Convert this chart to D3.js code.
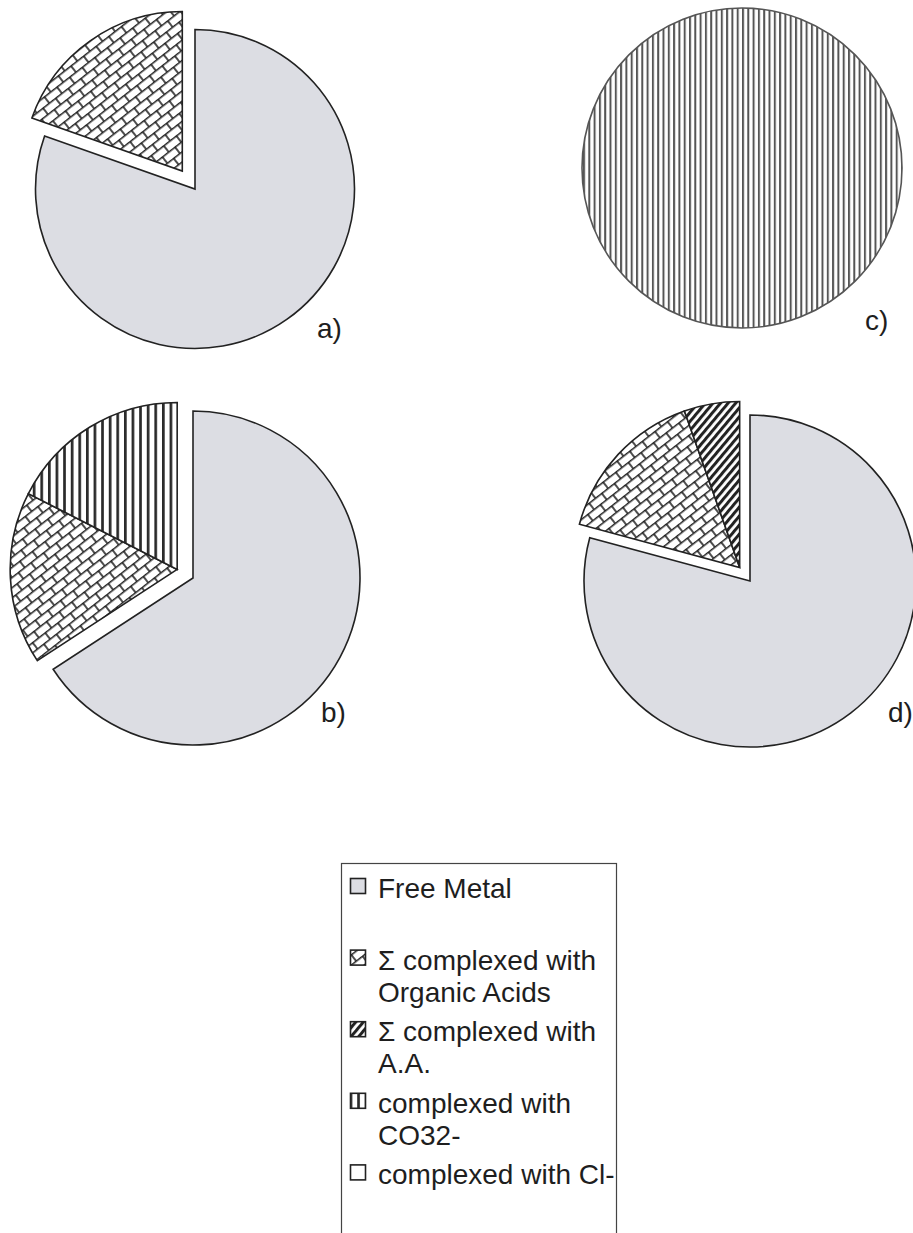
<!DOCTYPE html>
<html>
<head>
<meta charset="utf-8">
<script src="https://cdn.jsdelivr.net/npm/d3@7"></script>
<style>
  body { margin: 0; background: #fff; }
  text { font-family: "Liberation Sans", Arial, sans-serif; fill: #1e1e1e; }
</style>
</head>
<body>
<div id="chart-area"></div>
<script>
// values, % of total metal in each panel
const panels = ["a)", "b)", "c)", "d)"];
const categories = ["Free Metal", "\u03A3 complexed with Organic Acids", "\u03A3 complexed with A.A.", "complexed with CO32-", "complexed with Cl-"];
const freeMetal    = [80.4, 65.8, 0, 79.2];
const organicAcids = [19.6, 16.7, 0, 15.4];
const aminoAcids   = [0, 0, 0, 5.4];
const carbonate    = [0, 17.5, 100, 0];
const chloride     = [0, 0, 0, 0];
const series = [freeMetal, organicAcids, aminoAcids, carbonate, chloride];

// where each pie sits on the page (explode = how far the complexed slices are pulled out)
const layout = [
  {cx: 195, cy: 189, r: 159.5, explode: 22, lx: 317, ly: 338, co3: "co3"},
  {cx: 193, cy: 578, r: 167,   explode: 18, lx: 321, ly: 722, co3: "co3"},
  {cx: 742, cy: 168, r: 160,   explode: 0,  lx: 865, ly: 330, co3: "co3fine"},
  {cx: 750, cy: 581, r: 166,   explode: 17, lx: 888, ly: 722, co3: "co3"}
];

const width = 913, height = 1233;
const ink = "#222";

const svg = d3.select("#chart-area")
    .append("svg")
    .attr("width", width)
    .attr("height", height);

const defs = svg.append("defs");

// diagonal brick (organic acids)
const brick = defs.append("pattern")
    .attr("id", "brick")
    .attr("patternUnits", "userSpaceOnUse")
    .attr("width", 16).attr("height", 16)
    .attr("patternTransform", "rotate(-38)");
brick.append("rect").attr("width", 16).attr("height", 16).attr("fill", "#fff");
brick.append("path")
    .attr("d", "M0,0.8H16M0,8.8H16M1,0.8V8.8M9,8.8V16.8")
    .attr("stroke", ink).attr("stroke-width", 1.6).attr("fill", "none");

// wide diagonal stripes (amino acids)
const stripes = defs.append("pattern")
    .attr("id", "stripes")
    .attr("patternUnits", "userSpaceOnUse")
    .attr("width", 10).attr("height", 5.8)
    .attr("patternTransform", "rotate(-50)");
stripes.append("rect").attr("width", 10).attr("height", 5.8).attr("fill", "#fff");
stripes.append("rect").attr("width", 10).attr("height", 3).attr("fill", ink);

// vertical lines (carbonate)
function vLines(id, step, w, col) {
  const p = defs.append("pattern")
      .attr("id", id)
      .attr("patternUnits", "userSpaceOnUse")
      .attr("width", step).attr("height", 10);
  p.append("rect").attr("width", step).attr("height", 10).attr("fill", "#fff");
  p.append("rect").attr("width", w).attr("height", 10).attr("fill", col);
}
vLines("co3", 7.6, 2.7, "#2a2a2a");
vLines("co3fine", 5.3, 2, "#555");

const fills = ["#dcdde3", "url(#brick)", "url(#stripes)", "url(#co3)", "#fff"];

const pie = d3.pie()
    .sort(null)
    .value(d => d.value);

panels.forEach(function(label, i) {
  const L = layout[i];
  const data = series.map((s, k) => ({k: k, value: s[i]}));
  const slices = pie(data).filter(d => d.value > 0);

  const arc = d3.arc().innerRadius(0).outerRadius(L.r);

  // the complexed slices are pulled out together along their common bisector
  const others = slices.filter(d => d.data.k > 0);
  let dx = 0, dy = 0;
  if (others.length && slices.length > others.length) {
    const a0 = d3.min(others, d => d.startAngle);
    const a1 = d3.max(others, d => d.endAngle);
    const mid = (a0 + a1) / 2;
    dx = L.explode * Math.sin(mid);
    dy = -L.explode * Math.cos(mid);
  }

  const g = svg.append("g")
      .attr("transform", `translate(${L.cx},${L.cy})`);

  g.selectAll("path")
      .data(slices)
      .enter().append("path")
      .attr("transform", d => d.data.k > 0 ? `translate(${dx},${dy})` : null)
      .attr("d", arc)
      .attr("fill", d => d.data.k == 3 ? `url(#${L.co3})` : fills[d.data.k])
      .attr("stroke", i == 2 ? "#555" : ink)
      .attr("stroke-width", 1.6)
      .attr("stroke-linejoin", "miter");

  svg.append("text")
      .attr("x", L.lx)
      .attr("y", L.ly)
      .style("font-size", "28px")
      .text(label);
});

// legend
const legend = svg.append("g");
legend.append("rect")
    .attr("x", 341.5).attr("y", 863.5)
    .attr("width", 275).attr("height", 400)
    .attr("fill", "none")
    .attr("stroke", "#444")
    .attr("stroke-width", 1.2);

const maxW = 240;
categories.forEach(function(name, i) {
  const y = 898 + i * 71.6;
  legend.append("rect")
      .attr("x", 350.5).attr("y", y - 19.5)
      .attr("width", 15).attr("height", 15)
      .attr("fill", fills[i])
      .attr("stroke", ink)
      .attr("stroke-width", 1.6);

  const t = legend.append("text")
      .attr("x", 378)
      .attr("y", y)
      .style("font-size", "28px");

  // wrap the name into lines that fit inside the box
  const words = name.split(" ");
  let line = [], lineNo = 0;
  let tspan = t.append("tspan").attr("x", 378).attr("y", y);
  words.forEach(function(w) {
    line.push(w);
    tspan.text(line.join(" "));
    if (tspan.node().getComputedTextLength() > maxW && line.length > 1) {
      line.pop();
      tspan.text(line.join(" "));
      line = [w];
      lineNo++;
      tspan = t.append("tspan").attr("x", 378).attr("y", y + lineNo * 32).text(w);
    }
  });
});
</script>
</body>
</html>
